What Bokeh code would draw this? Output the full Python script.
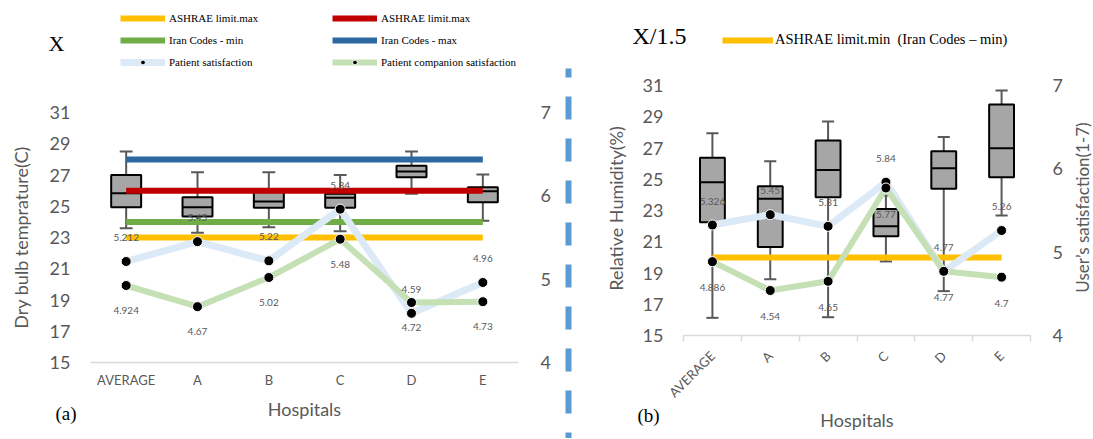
from math import pi
from bokeh.plotting import figure
from bokeh.models import (Range1d, LinearAxis, FixedTicker, Label, Legend, LegendItem)
from bokeh.embed import file_html
from bokeh.resources import INLINE
from bokeh.core.properties import value

hospitals = ["AVERAGE", "A", "B", "C", "D", "E"]

# ---- Panel (a): dry bulb temperature (C) ----
temp_upper = [28.5, 27.18, 27.18, 27.0, 28.5, 27.03]
temp_q3 = [27.0, 25.58, 26.0, 25.8, 27.6, 26.22]
temp_median = [25.84, 24.94, 25.3, 25.55, 27.22, 25.96]
temp_q1 = [24.94, 24.34, 24.9, 24.9, 26.86, 25.26]
temp_lower = [23.6, 23.3, 23.66, 23.4, 25.8, 24.08]
temp_ticks = [15, 17, 19, 21, 23, 25, 27, 29, 31]
ashrae_yellow_a = 23
ashrae_red_a = 26
iran_min_a = 24
iran_max_a = 28
patient_a = [5.212, 5.45, 5.22, 5.84, 4.59, 4.96]
companion_a = [4.924, 4.67, 5.02, 5.48, 4.72, 4.73]

# ---- Panel (b): relative humidity (%) ----
rh_upper = [27.95, 26.16, 28.7, 23.96, 27.7, 30.68]
rh_q3 = [26.37, 24.56, 27.48, 23.1, 26.8, 29.78]
rh_median = [24.81, 23.75, 25.6, 22.0, 25.7, 26.99]
rh_q1 = [22.25, 20.66, 23.85, 21.36, 24.39, 25.13]
rh_lower = [16.13, 18.6, 16.17, 19.74, 17.84, 22.68]
rh_ticks = [15, 17, 19, 21, 23, 25, 27, 29, 31]
ashrae_min_b = 20
patient_b = [5.326, 5.45, 5.31, 5.84, 4.77, 5.26]
companion_b = [4.886, 4.54, 4.65, 5.77, 4.77, 4.7]

sat_ticks = [4, 5, 6, 7]

# ---- styling / layout ----
GRAY = "#595959"
SANS = "Lato"
SERIF = "Liberation Serif"
C_YELLOW = "#FFC000"
C_RED = "#C00000"
C_GREEN = "#70AD47"
C_BLUE = "#2D69A0"
C_PAT = "#DCE9F6"
C_COMP = "#C5E0B4"
W, H = 1092, 438

pos = list(range(len(hospitals)))          # category index on each x scale
n = len(hospitals)
labels_map = {i: h for i, h in zip(pos, hospitals)}


def rng(v0, px0, v1, px1, lo_px, hi_px):
    """Range whose ends fall at canvas pixels lo_px / hi_px, given two anchors."""
    k = (v1 - v0) / (px1 - px0)
    return Range1d(v0 + (lo_px - px0) * k, v0 + (hi_px - px0) * k)


def px_to_val(v0, px0, v1, px1, px):
    k = (v1 - v0) / (px1 - px0)
    return v0 + (px - px0) * k


# panel (a): category axis 90..518 px, temperature 15@362, 31@112, satisfaction 4@362, 7@112
xa = rng(-0.5, 90, 5.5, 518, 0, W)
ya = rng(15, 362, 31, 112, H, 0)
sa = rng(4, 362, 7, 112, H, 0)
# panel (b): category axis 683..1030 px, RH 15@335, 31@85, satisfaction 4@335, 7@85
xb = rng(-0.5, 683, 5.5, 1030, 0, W)
yb = rng(15, 335, 31, 85, H, 0)
sb = rng(4, 335, 7, 85, H, 0)

p = figure(width=W, height=H, x_range=xa, y_range=ya,
           x_axis_location=None, y_axis_location=None,
           output_backend="svg", toolbar_location=None,
           min_border=0, min_border_left=0, min_border_right=0,
           min_border_top=0, min_border_bottom=0)
p.outline_line_color = None
p.grid.visible = False
p.extra_x_ranges = {"xb": xb}
p.extra_y_ranges = {"sat_a": sa, "yb": yb, "sat_b": sb}


def style_y(ax, standoff):
    ax.axis_line_color = None
    ax.major_tick_line_color = None
    ax.minor_tick_line_color = None
    ax.major_tick_out = 0
    ax.major_tick_in = 0
    ax.major_label_standoff = standoff
    ax.major_label_text_font = SANS
    ax.major_label_text_font_size = "18px"
    ax.major_label_text_color = GRAY


def style_x(ax):
    ax.axis_line_color = "#D9D9D9"
    ax.axis_line_width = 1.5
    ax.major_tick_line_color = None
    ax.major_tick_out = 0
    ax.major_tick_in = 0
    ax.major_label_overrides = labels_map
    ax.major_label_text_font = SANS
    ax.major_label_text_font_size = "13px"
    ax.major_label_text_color = GRAY
    ax.axis_label = "Hospitals"
    ax.axis_label_text_font = SANS
    ax.axis_label_text_font_style = "normal"
    ax.axis_label_text_font_size = "18px"
    ax.axis_label_text_color = GRAY


# ---- axes, panel (a) ----
ay_l = LinearAxis(ticker=FixedTicker(ticks=temp_ticks), fixed_location=-0.5)
style_y(ay_l, 20)
p.add_layout(ay_l, "left")
ay_r = LinearAxis(y_range_name="sat_a", ticker=FixedTicker(ticks=sat_ticks), fixed_location=5.5)
style_y(ay_r, 22)
p.add_layout(ay_r, "right")
ax_a = LinearAxis(ticker=FixedTicker(ticks=pos), fixed_location=15, bounds=(-0.5, 5.5))
style_x(ax_a)
ax_a.minor_tick_line_color = None
ax_a.major_label_standoff = 9
ax_a.axis_label_standoff = 7
p.add_layout(ax_a, "below")

# ---- axes, panel (b) ----
by_l = LinearAxis(x_range_name="xb", y_range_name="yb", ticker=FixedTicker(ticks=rh_ticks),
                  fixed_location=-0.5)
style_y(by_l, 20)
p.add_layout(by_l, "left")
by_r = LinearAxis(x_range_name="xb", y_range_name="sat_b", ticker=FixedTicker(ticks=sat_ticks),
                  fixed_location=5.5)
style_y(by_r, 22)
p.add_layout(by_r, "right")
ax_b = LinearAxis(x_range_name="xb", y_range_name="yb",
                  ticker=FixedTicker(ticks=pos, minor_ticks=[i - 0.5 for i in pos] + [pos[-1] + 0.5]),
                  fixed_location=15, bounds=(-0.5, 5.5))
style_x(ax_b)
ax_b.minor_tick_line_color = "#D9D9D9"
ax_b.minor_tick_line_width = 1.5
ax_b.minor_tick_out = 6
ax_b.minor_tick_in = 0
ax_b.major_label_orientation = pi / 4
ax_b.major_label_standoff = 12
ax_b.axis_label_standoff = 0
p.add_layout(ax_b, "below")


def draw_boxes(upper, q3, med, q1, lower, box_w, cap_w, **rn):
    p.segment(x0=pos, y0=lower, x1=pos, y1=upper, line_color=GRAY, line_width=2, **rn)
    p.rect(x=pos, y=upper, width=cap_w, height=2, height_units="screen",
           fill_color=GRAY, line_color=None, **rn)
    p.rect(x=pos, y=lower, width=cap_w, height=2, height_units="screen",
           fill_color=GRAY, line_color=None, **rn)
    p.vbar(x=pos, bottom=q1, top=q3, width=box_w,
           fill_color="#A6A6A6", line_color="black", line_width=2, **rn)
    p.rect(x=pos, y=med, width=box_w, height=2, height_units="screen",
           fill_color="black", line_color=None, **rn)


def draw_sat(pat, comp, up_off, down_off, **rn):
    lp = p.line(pos, pat, line_color=C_PAT, line_width=7, line_join="round", **rn)
    lc = p.line(pos, comp, line_color=C_COMP, line_width=6, line_join="round", **rn)
    dp = p.scatter(pos, pat, size=10, fill_color="black", line_color="white",
                   line_width=1, **rn)
    dc = p.scatter(pos, comp, size=10, fill_color="black", line_color="white",
                   line_width=1, **rn)
    p.text(x=pos, y=pat, text=[str(v) for v in pat], y_offset=up_off,
           text_align="center", text_baseline="middle", text_font=value(SANS),
           text_font_size="10px", text_color=GRAY, **rn)
    p.text(x=pos, y=comp, text=[str(v) for v in comp], y_offset=down_off,
           text_align="center", text_baseline="middle", text_font=value(SANS),
           text_font_size="10px", text_color=GRAY, **rn)
    return lp, lc, dp, dc


# ================= Panel (a) =================
draw_boxes(temp_upper, temp_q3, temp_median, temp_q1, temp_lower, 0.42, 0.18)
r_blue = p.line(pos, [iran_max_a] * n, line_color=C_BLUE, line_width=6)
r_red = p.line(pos, [ashrae_red_a] * n, line_color=C_RED, line_width=6)
r_green = p.line(pos, [iran_min_a] * n, line_color=C_GREEN, line_width=6)
r_yellow = p.line(pos, [ashrae_yellow_a] * n, line_color=C_YELLOW, line_width=6)
lp, lc, dp, dc = draw_sat(patient_a, companion_a, -24, 25, y_range_name="sat_a")

leg_a = Legend(items=[
    LegendItem(label="ASHRAE limit.max", renderers=[r_yellow]),
    LegendItem(label="ASHRAE limit.max", renderers=[r_red]),
    LegendItem(label="Iran Codes - min", renderers=[r_green]),
    LegendItem(label="Iran Codes - max", renderers=[r_blue]),
    LegendItem(label="Patient satisfaction", renderers=[lp, dp]),
    LegendItem(label="Patient companion satisfaction", renderers=[lc, dc]),
], orientation="horizontal", ncols=2, location=(120, H - 68),
    glyph_width=45, glyph_height=12, label_height=12, label_width=153,
    label_standoff=4, spacing=10, padding=0, margin=0,
    background_fill_alpha=0, border_line_color=None,
    label_text_font=SERIF, label_text_font_size="11px", label_text_color="black")
p.add_layout(leg_a, "center")

# ================= Panel (b) =================
rb = dict(x_range_name="xb", y_range_name="yb")
draw_boxes(rh_upper, rh_q3, rh_median, rh_q1, rh_lower, 0.43, 0.21, **rb)
r_yel_b = p.line(pos, [ashrae_min_b] * n, line_color=C_YELLOW, line_width=6, **rb)
draw_sat(patient_b, companion_b, -24, 26, x_range_name="xb", y_range_name="sat_b")

leg_b = Legend(items=[
    LegendItem(label="ASHRAE limit.min  (Iran Codes \u2013 min)", renderers=[r_yel_b]),
], orientation="horizontal", location=(722, H - 48),
    glyph_width=51, glyph_height=12, label_height=12, label_standoff=2,
    spacing=0, padding=0, margin=0,
    background_fill_alpha=0, border_line_color=None,
    label_text_font=SERIF, label_text_font_size="14.5px", label_text_color="black")
p.add_layout(leg_b, "center")

# ---- dashed divider between the panels ----
div_x = px_to_val(-0.5, 90, 5.5, 518, 568)
p.segment(x0=[div_x], y0=[px_to_val(15, 362, 31, 112, 68)],
          x1=[div_x], y1=[px_to_val(15, 362, 31, 112, H)],
          line_color="#5B9BD5", line_width=6, line_dash="23 19", line_dash_offset=14)

# ---- free texts ----
def txt(x, y, text, font, size, color="black", angle=0, align="left"):
    p.add_layout(Label(x=x, y=H - y, x_units="screen", y_units="screen", text=text,
                       text_font=font, text_font_size=size, text_color=color,
                       angle=angle, text_align=align, text_baseline="middle"))


txt(48, 43, "X", SERIF, "22px")
txt(632, 35, "X/1.5", SERIF, "24px")
txt(55, 413, "(a)", SERIF, "19px")
txt(637, 415, "(b)", SERIF, "19px")
txt(20, 237, "Dry bulb temprature(C)", SANS, "18px", GRAY, pi / 2, "center")
txt(615, 208, "Relative Humidity(%)", SANS, "18px", GRAY, pi / 2, "center")
txt(1082, 207, "User\u2019s satisfaction(1-7)", SANS, "17px", GRAY, pi / 2, "center")

open("out.html", "w").write(file_html(p, INLINE))
